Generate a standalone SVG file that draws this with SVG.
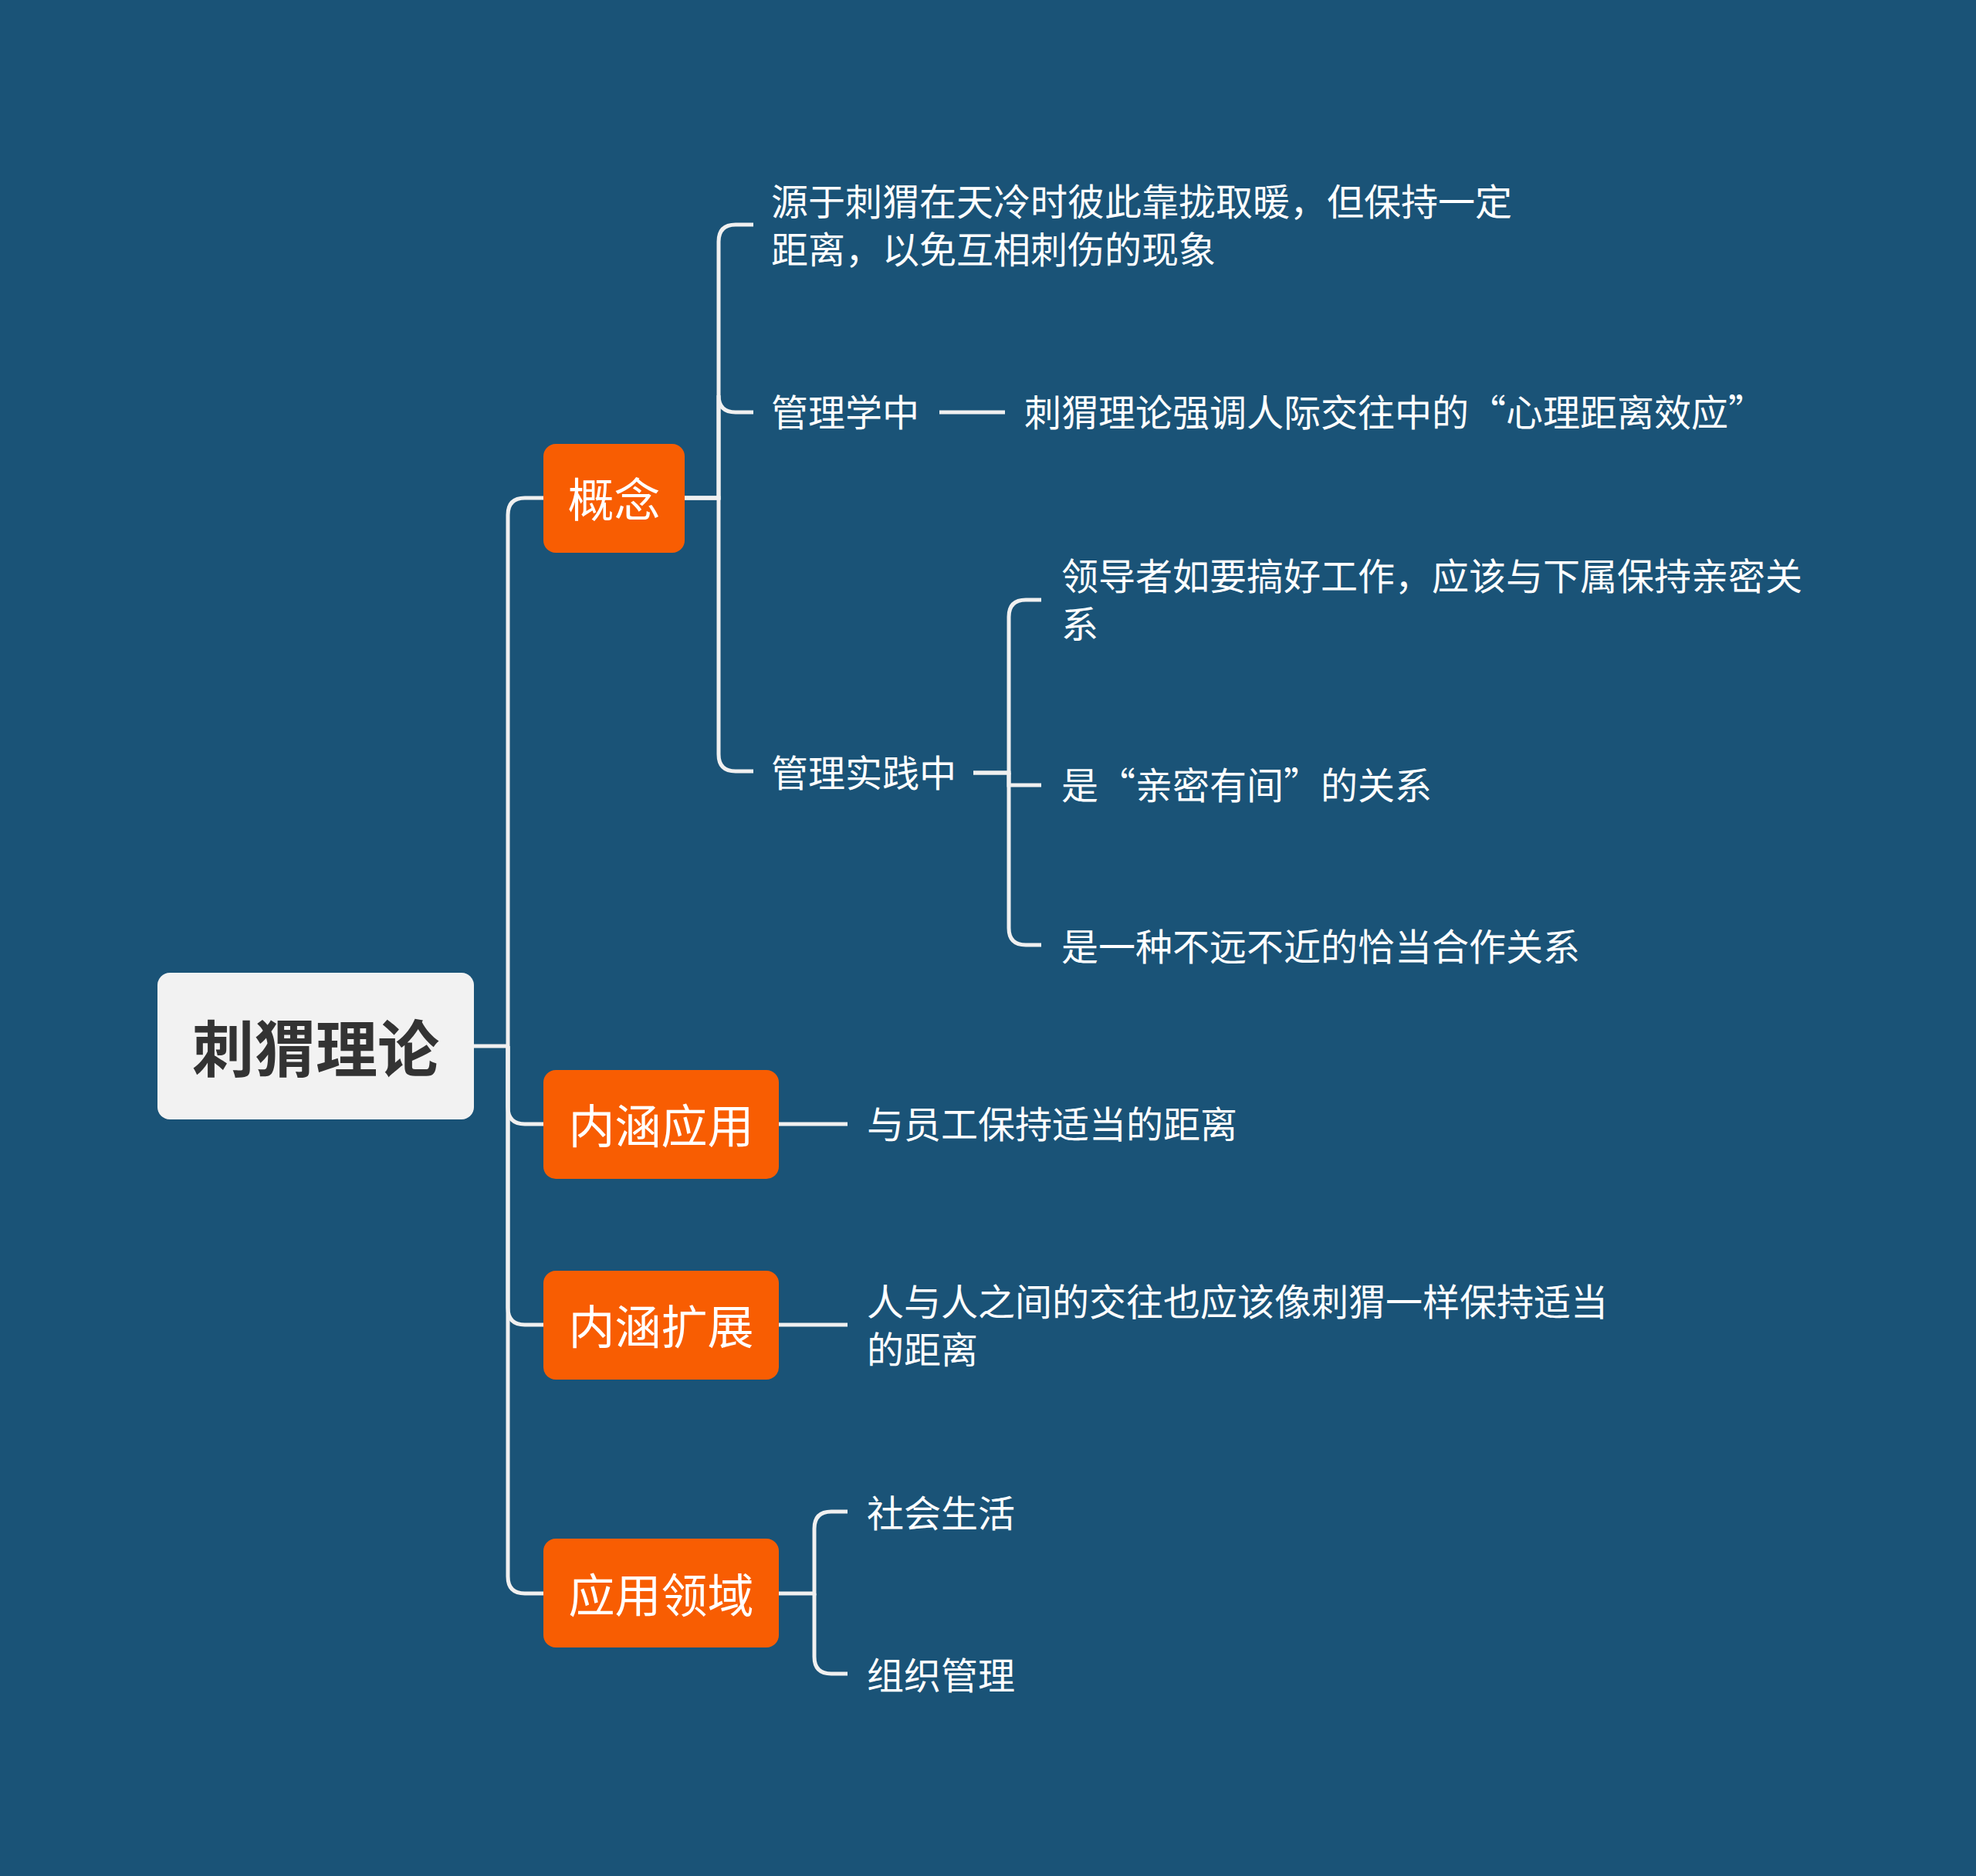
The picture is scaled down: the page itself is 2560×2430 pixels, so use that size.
<svg xmlns="http://www.w3.org/2000/svg" width="2560" height="2430" viewBox="0 0 2560 2430">
<style>
.bg{fill:#1A5377}
.conn path{fill:none;stroke:#F0F0F0;stroke-width:5;stroke-linecap:butt}
.root rect{fill:#F2F2F2}
.root text{font-family:"Noto Sans CJK SC","Noto Sans",sans-serif;font-size:80px;font-weight:bold;fill:#333333;text-anchor:middle;dominant-baseline:central}
.main rect{fill:#F85D02}
.main text{font-family:"Noto Sans CJK SC","Noto Sans",sans-serif;font-size:60px;fill:#FFFFFF;text-anchor:middle;dominant-baseline:central}
.leaf text{font-family:"Noto Sans CJK SC","Noto Sans",sans-serif;font-size:48px;fill:#FFFFFF;dominant-baseline:central}
</style>
<rect class="bg" x="0" y="0" width="2560" height="2430"/>
<g id="connectors" class="conn">
<path d="M614 1355 H658"/>
<path d="M658 1355 V667 Q658 645 680 645 H704"/>
<path d="M658 1355 V1434 Q658 1456 680 1456 H704"/>
<path d="M658 1355 V1694 Q658 1716 680 1716 H704"/>
<path d="M658 1355 V2042 Q658 2064 680 2064 H704"/>
<path d="M887 645 H931 V313 Q931 291 953 291 H976"/>
<path d="M887 645 H931 V512 Q931 534 953 534 H976"/>
<path d="M887 645 H931 V977 Q931 999 953 999 H976"/>
<path d="M1217 534 H1302"/>
<path d="M1261 1001 H1307 V799 Q1307 777 1329 777 H1349"/>
<path d="M1307 1001 V1017 H1349"/>
<path d="M1261 1001 H1307 V1202 Q1307 1224 1329 1224 H1349"/>
<path d="M1009 1456 H1098"/>
<path d="M1009 1716 H1098"/>
<path d="M1009 2064 H1055 V1980 Q1055 1958 1077 1958 H1098"/>
<path d="M1055 2064 V2146 Q1055 2168 1077 2168 H1098"/>
</g>
<g id="root" class="root">
<rect x="204" y="1260" width="410" height="190" rx="16"/>
<text x="409" y="1353">刺猬理论</text>
</g>
<g id="n-gainian" class="main">
<rect x="704" y="575" width="183" height="141" rx="16"/>
<text x="795.5" y="643">概念</text>
</g>
<g id="n-neihanyingyong" class="main">
<rect x="704" y="1386" width="305" height="141" rx="16"/>
<text x="856.5" y="1454">内涵应用</text>
</g>
<g id="n-neihankuozhan" class="main">
<rect x="704" y="1646" width="305" height="141" rx="16"/>
<text x="856.5" y="1714">内涵扩展</text>
</g>
<g id="n-yingyonglingyu" class="main">
<rect x="704" y="1993" width="305" height="141" rx="16"/>
<text x="856.5" y="2062">应用领域</text>
</g>
<g id="n-origin" class="leaf">
<text x="999" y="258"><tspan x="999" y="258">源于刺猬在天冷时彼此靠拢取暖，但保持一定</tspan><tspan x="999" y="320">距离，以免互相刺伤的现象</tspan></text>
</g>
<g id="n-guanlixue" class="leaf">
<text x="999" y="531">管理学中</text>
</g>
<g id="n-guanlixue-1" class="leaf">
<text x="1327" y="531">刺猬理论强调人际交往中的“心理距离效应”</text>
</g>
<g id="n-guanlishijian" class="leaf">
<text x="999" y="998">管理实践中</text>
</g>
<g id="n-sj-1" class="leaf">
<text x="1375" y="743"><tspan x="1375" y="743">领导者如要搞好工作，应该与下属保持亲密关</tspan><tspan x="1375" y="805">系</tspan></text>
</g>
<g id="n-sj-2" class="leaf">
<text x="1375" y="1014">是“亲密有间”的关系</text>
</g>
<g id="n-sj-3" class="leaf">
<text x="1375" y="1223">是一种不远不近的恰当合作关系</text>
</g>
<g id="n-yingyong-1" class="leaf">
<text x="1123" y="1453">与员工保持适当的距离</text>
</g>
<g id="n-kuozhan-1" class="leaf">
<text x="1123" y="1683"><tspan x="1123" y="1683">人与人之间的交往也应该像刺猬一样保持适当</tspan><tspan x="1123" y="1745">的距离</tspan></text>
</g>
<g id="n-ly-1" class="leaf">
<text x="1123" y="1957">社会生活</text>
</g>
<g id="n-ly-2" class="leaf">
<text x="1123" y="2167">组织管理</text>
</g>
</svg>
